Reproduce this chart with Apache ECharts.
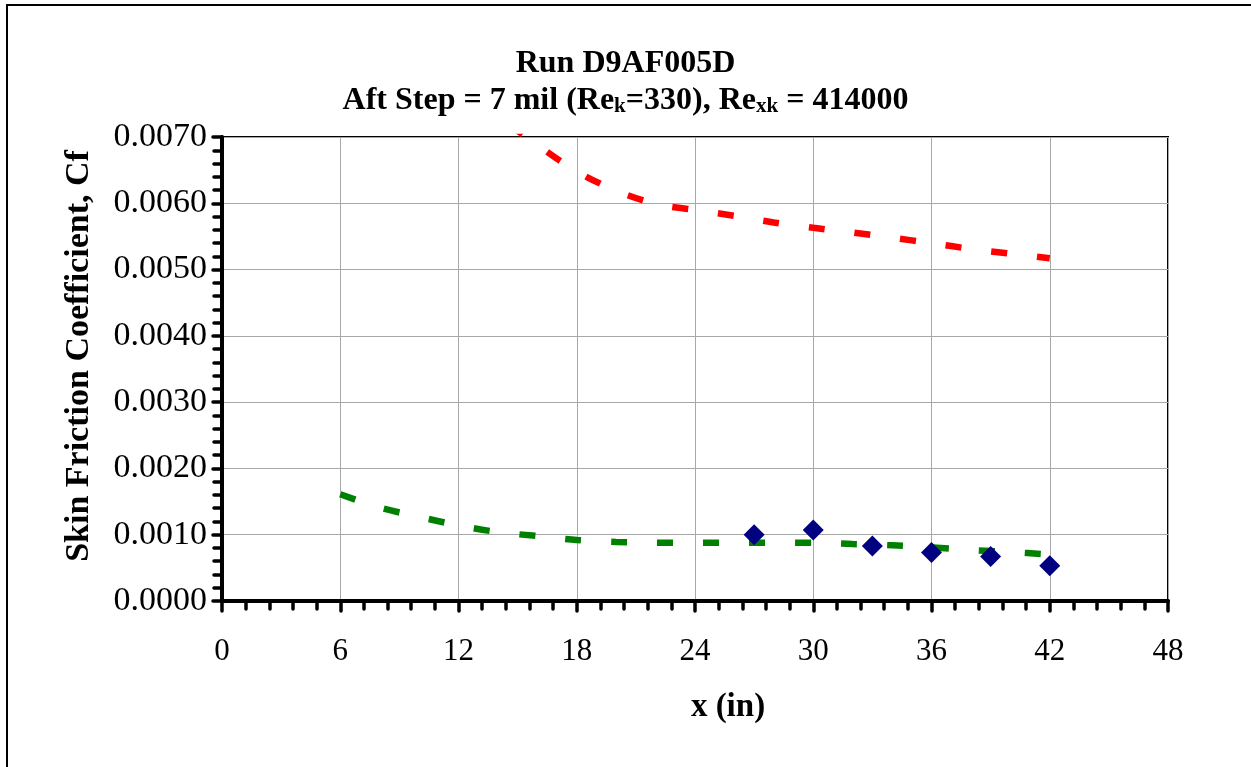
<!DOCTYPE html>
<html>
<head>
<meta charset="utf-8">
<title>Run D9AF005D</title>
<script src="https://cdn.jsdelivr.net/npm/echarts@6/dist/echarts.min.js"></script>
<style>
  html, body { margin: 0; padding: 0; background: #fff; }
  #chart { width: 1251px; height: 767px; }
</style>
</head>
<body>
<div id="chart"></div>
<script>
// Measured skin friction coefficient at each station
const measX = [27, 30, 33, 36, 39, 42];
const measCf = [0.00100, 0.00107, 0.00083, 0.00073, 0.00067, 0.00053];

// Upper reference curve (red dashed)
const upperX = [14.6, 16, 18, 20, 22, 24, 26, 28, 30, 32, 34, 36, 38, 40, 42];
const upperCf = [0.00718, 0.00688, 0.00648, 0.00619, 0.00599, 0.00590, 0.00581, 0.00571, 0.00563, 0.00556, 0.00548, 0.00540, 0.00531, 0.00524, 0.00517];

// Lower reference curve (green dashed)
const lowerX = [6, 8, 10, 12, 14, 16, 18, 20, 22, 24, 26, 28, 30, 32, 34, 36, 38, 40, 42];
const lowerCf = [0.00161, 0.00141, 0.00127, 0.00114, 0.00104, 0.00098, 0.00092, 0.00089, 0.00088, 0.00088, 0.00088, 0.00088, 0.00088, 0.00086, 0.00084, 0.00081, 0.00077, 0.00074, 0.00070];

// Axis ranges
const xRange = { min: 0, max: 48, step: 6 };
const yRange = { min: 0, max: 0.007, step: 0.001 };

const pairs = (xs, ys) => xs.map((x, i) => [x, ys[i]]);

const serif = 'Liberation Serif';
const tickStyle = { color: '#000', width: 3.5, cap: 'round' };

const chart = echarts.init(document.getElementById('chart'), null, { renderer: 'canvas' });

chart.setOption({
  backgroundColor: '#fff',
  animation: false,
  title: {
    left: 'center',
    top: 40,
    padding: [5, 5, 5, 13],
    text: 'Run D9AF005D\nAft Step = 7 mil (Re{s|k}=330), Re{s|xk} = 414000',
    textStyle: {
      fontFamily: serif,
      fontWeight: 'bold',
      fontSize: 32,
      lineHeight: 37,
      color: '#000',
      rich: {
        s: {
          fontFamily: serif,
          fontWeight: 'bold',
          fontSize: 21,
          lineHeight: 24,
          padding: [13, 0, 0, 0],
          color: '#000'
        }
      }
    }
  },
  grid: {
    left: 222,
    top: 137,
    right: 83,
    bottom: 166,
    show: true,
    borderColor: '#000',
    borderWidth: 2,
    backgroundColor: '#fff'
  },
  xAxis: {
    type: 'value',
    min: xRange.min,
    max: xRange.max,
    interval: xRange.step,
    name: 'x (in)',
    nameLocation: 'middle',
    nameGap: 90,
    nameTextStyle: { fontFamily: serif, fontWeight: 'bold', fontSize: 33, color: '#000', padding: [0, 0, 0, 66] },
    axisLine: { show: true, onZero: false, lineStyle: { color: '#000', width: 4 } },
    axisTick: { show: true, length: 10, lineStyle: tickStyle },
    minorTick: { show: true, splitNumber: 5, length: 8, lineStyle: tickStyle },
    axisLabel: {
      margin: 35,
      fontFamily: serif,
      fontSize: 31,
      color: '#000'
    },
    splitLine: { show: true, lineStyle: { color: '#a8a8a8', width: 1 } }
  },
  yAxis: {
    type: 'value',
    min: yRange.min,
    max: yRange.max,
    interval: yRange.step,
    name: 'Skin Friction Coefficient, Cf',
    nameLocation: 'middle',
    nameGap: 126,
    nameTextStyle: { fontFamily: serif, fontWeight: 'bold', fontSize: 34, color: '#000', padding: [0, 0, 0, 26] },
    axisLine: { show: true, onZero: false, lineStyle: { color: '#000', width: 4 } },
    axisTick: { show: true, length: 9, lineStyle: tickStyle },
    minorTick: { show: true, splitNumber: 5, length: 8, lineStyle: tickStyle },
    axisLabel: {
      margin: 15,
      fontFamily: serif,
      fontSize: 34,
      color: '#000',
      formatter: v => v.toFixed(4)
    },
    splitLine: { show: true, lineStyle: { color: '#a8a8a8', width: 1 } }
  },
  series: [
    {
      name: 'upper',
      type: 'line',
      data: pairs(upperX, upperCf),
      showSymbol: false,
      smooth: 0.3,
      clip: true,
      lineStyle: { color: '#ff0000', width: 6.5, type: [16, 30], cap: 'butt' },
      z: 3
    },
    {
      name: 'lower',
      type: 'line',
      data: pairs(lowerX, lowerCf),
      showSymbol: false,
      smooth: 0.3,
      clip: true,
      lineStyle: { color: '#008000', width: 6.5, type: [16, 30], cap: 'butt' },
      z: 3
    },
    {
      name: 'measured',
      type: 'scatter',
      data: pairs(measX, measCf),
      symbol: 'diamond',
      symbolSize: 21,
      itemStyle: { color: '#000080', opacity: 1 },
      z: 5
    }
  ],
  graphic: [
    // Chart frame (left and top edges are within the view)
    { type: 'line', shape: { x1: 7, y1: 5, x2: 7, y2: 770 }, style: { stroke: '#000', lineWidth: 2 }, z: 10 },
    { type: 'line', shape: { x1: 6, y1: 5, x2: 1255, y2: 5 }, style: { stroke: '#000', lineWidth: 2 }, z: 10 }
  ]
});
</script>
</body>
</html>
